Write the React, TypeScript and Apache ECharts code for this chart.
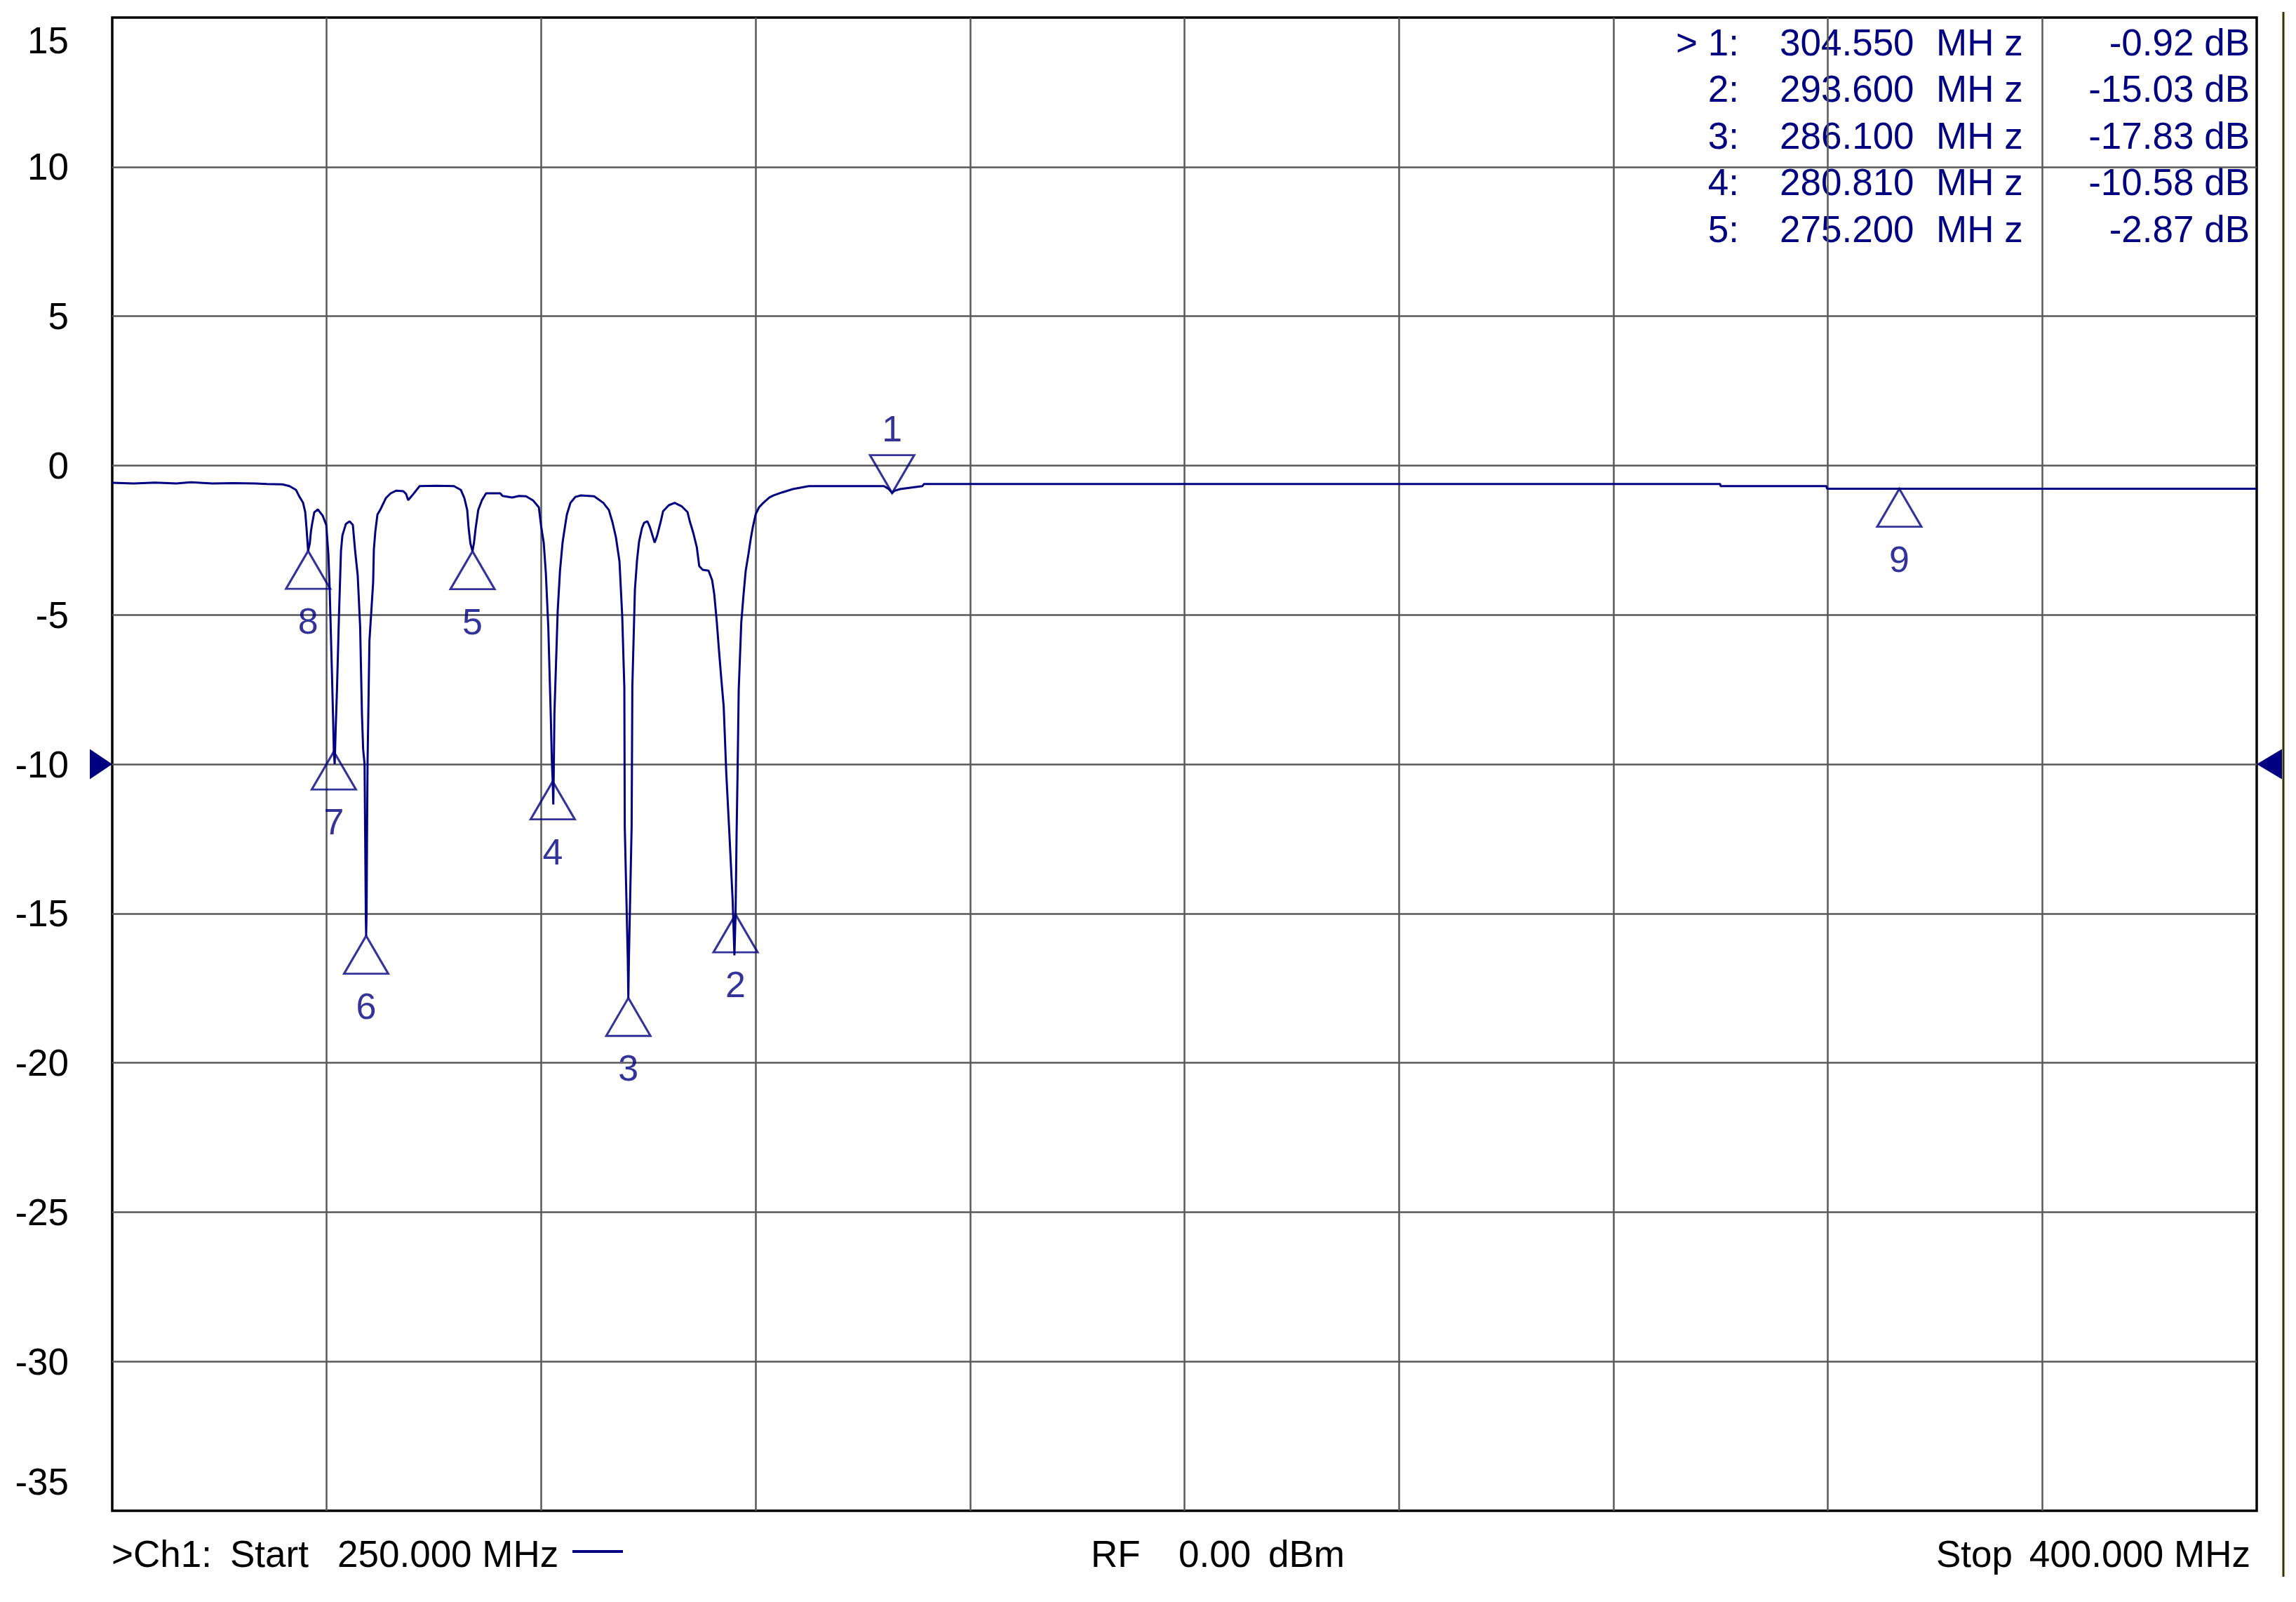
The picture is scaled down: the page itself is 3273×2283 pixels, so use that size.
import React, { useEffect, useRef } from 'react';
import * as echarts from 'echarts';

// ---------- sweep settings ----------
const START_MHZ = 250;
const STOP_MHZ = 400;
const DIVISION_MHZ = 15;
const Y_MIN_DB = -35;
const Y_MAX_DB = 15;
const Y_STEP_DB = 5;
const REF_LEVEL_DB = -10;
const RF_POWER_DBM = 0;

// ---------- trace ----------
const traceFreqMHz = [
  250.0, 251.5, 253.0, 254.5, 255.5, 257.0, 258.5, 260.0, 260.8, 261.9,
  262.4, 262.86, 263.1, 263.35, 263.5, 263.59, 263.7, 263.82, 263.9, 263.98,
  264.13, 264.38, 264.72, 264.97, 265.12, 265.21, 265.36, 265.45, 265.5, 265.56,
  265.63, 265.72, 265.86, 266.0, 266.1, 266.34, 266.6, 266.83, 266.98, 267.17,
  267.34, 267.47, 267.55, 267.65, 267.7, 267.74, 267.76, 267.79, 267.82, 267.86,
  267.91, 267.99, 268.25, 268.3, 268.4, 268.55, 268.74, 268.9, 269.14, 269.48,
  269.87, 270.36, 270.55, 270.7, 270.95, 271.5, 272.7, 273.9, 274.39, 274.63,
  274.83, 274.93, 275.05, 275.2, 275.3, 275.42, 275.6, 275.86, 276.15, 277.14,
  277.3, 277.97, 278.46, 278.95, 279.44, 279.84, 280.0, 280.18, 280.33, 280.5,
  280.67, 280.75, 280.81, 280.85, 280.88, 280.93, 281.16, 281.32, 281.5, 281.65,
  281.8, 282.05, 282.4, 282.78, 283.71, 284.35, 284.74, 284.99, 285.23, 285.48,
  285.67, 285.82, 285.85, 286.06, 286.1, 286.14, 286.33, 286.38, 286.56, 286.71,
  286.85, 287.05, 287.2, 287.44, 287.62, 287.94, 288.12, 288.37, 288.53, 288.93,
  289.34, 289.84, 290.24, 290.4, 290.65, 290.89, 291.06, 291.3, 291.71, 291.96,
  292.11, 292.29, 292.44, 292.6, 292.77, 292.95, 293.17, 293.4, 293.52, 293.6,
  293.67, 293.74, 293.82, 294.0, 294.16, 294.31, 294.5, 294.66, 294.8, 295.0,
  295.24, 295.54, 295.97, 296.27, 296.86, 297.6, 298.73, 301.5, 303.98, 304.3,
  304.55, 304.7, 305.1, 306.67, 306.77, 320.0, 340.0, 362.47, 362.5, 369.9,
  369.95, 385.0, 400.0,
];
const traceDb = [
  -0.58, -0.6, -0.57, -0.6, -0.56, -0.6, -0.59, -0.6, -0.62, -0.63,
  -0.69, -0.82, -1.05, -1.25, -1.56, -2.1, -2.86, -2.6, -2.2, -1.96,
  -1.57, -1.47, -1.68, -1.99, -2.98, -4.15, -6.81, -8.5, -9.58, -10.0,
  -8.8, -7.5, -5.02, -2.86, -2.34, -1.96, -1.87, -1.99, -2.81, -3.68,
  -5.4, -8.38, -9.5, -10.0, -12.8, -15.2, -15.75, -15.0, -12.5, -9.9,
  -8.38, -5.87, -3.91, -2.81, -2.22, -1.64, -1.49, -1.33, -1.09, -0.93,
  -0.84, -0.86, -0.95, -1.16, -1.02, -0.69, -0.68, -0.69, -0.82, -1.09,
  -1.49, -2.1, -2.6, -2.87, -2.6, -2.1, -1.49, -1.16, -0.93, -0.93,
  -1.02, -1.07, -1.02, -1.03, -1.17, -1.4, -2.03, -2.58, -3.6, -5.4,
  -8.3, -9.9, -10.58, -11.35, -10.4, -8.3, -4.85, -3.52, -2.58, -2.1,
  -1.64, -1.25, -1.05, -1.0, -1.03, -1.25, -1.49, -1.9, -2.4, -3.21,
  -5.02, -7.44, -12.1, -16.5, -17.83, -16.5, -12.1, -7.39, -4.15, -3.16,
  -2.55, -2.1, -1.92, -1.87, -2.08, -2.58, -2.34, -1.87, -1.53, -1.33,
  -1.25, -1.37, -1.56, -1.87, -2.27, -2.74, -3.37, -3.49, -3.52, -3.84,
  -4.31, -5.25, -6.19, -7.13, -8.07, -10.3, -12.35, -14.6, -16.4, -15.03,
  -12.4, -10.3, -7.51, -5.25, -4.31, -3.52, -2.97, -2.46, -2.08, -1.64,
  -1.4, -1.25, -1.07, -1.0, -0.9, -0.79, -0.69, -0.69, -0.69, -0.78,
  -0.92, -0.85, -0.79, -0.69, -0.62, -0.62, -0.62, -0.62, -0.69, -0.69,
  -0.78, -0.78, -0.78,
];

// ---------- markers ----------
const markerIds = ['1', '2', '3', '4', '5', '6', '7', '8', '9'];
const markerFreqMHz = [304.55, 293.6, 286.1, 280.81, 275.2, 267.76, 265.5, 263.7, 375.0];
const markerDb = [-0.92, -15.03, -17.83, -10.58, -2.87, -15.75, -9.58, -2.86, -0.78];
const tableRowCount = 5;
const activeMarkerId = '1';

// ---------- style ----------
const NAVY = '#000080';
const GRID_COLOR = '#585858';
const FONT = '"Liberation Sans", Arial, sans-serif';
const FS = 53;
const GRID = { left: 160, top: 25, width: 3057, height: 2128 };

const UP_TRI = 'path://M1,0L2,2L0,2Z';
const DOWN_TRI = 'path://M0,0L2,0L1,2Z';
const TRI_W = 63;
const TRI_H = 54;

function txt(text: string, x: number, y: number, align: string, fill: string) {
  return {
    type: 'text',
    x,
    y,
    silent: true,
    style: { text, fill, fontSize: FS, fontFamily: FONT, align, verticalAlign: 'middle' },
  };
}

function buildOption() {
  const traceData = traceFreqMHz.map((f, i) => [f, traceDb[i]]);

  const markerData = markerIds.map((id, i) => {
    const down = id === activeMarkerId;
    return {
      name: id,
      value: [markerFreqMHz[i], markerDb[i]],
      symbol: down ? DOWN_TRI : UP_TRI,
      symbolOffset: [0, down ? -TRI_H / 2 : TRI_H / 2],
      label: { offset: [0, down ? -65 : 73] },
    };
  });

  const graphics: any[] = [];
  const rowY0 = 60;
  const rowStep = 66.6;
  for (let i = 0; i < tableRowCount; i++) {
    const y = rowY0 + i * rowStep;
    const id = markerIds[i];
    graphics.push(txt((id === activeMarkerId ? '> ' : '') + id + ':', 2479, y, 'right', NAVY));
    graphics.push(txt(markerFreqMHz[i].toFixed(3), 2537, y, 'left', NAVY));
    graphics.push(txt('MH z', 2760, y, 'left', NAVY));
    graphics.push(txt(markerDb[i].toFixed(2) + ' dB', 3207, y, 'right', NAVY));
  }
  const footY = 2214;
  graphics.push(txt('>Ch1:', 159, footY, 'left', '#000'));
  graphics.push(txt('Start', 328, footY, 'left', '#000'));
  graphics.push(txt(START_MHZ.toFixed(3) + ' MHz', 481, footY, 'left', '#000'));
  graphics.push({
    type: 'line',
    silent: true,
    shape: { x1: 816, y1: 2211, x2: 888, y2: 2211 },
    style: { stroke: NAVY, lineWidth: 4 },
  });
  graphics.push(txt('RF', 1555, footY, 'left', '#000'));
  graphics.push(txt(RF_POWER_DBM.toFixed(2), 1680, footY, 'left', '#000'));
  graphics.push(txt('dBm', 1808, footY, 'left', '#000'));
  graphics.push(txt('Stop', 2760, footY, 'left', '#000'));
  graphics.push(txt(STOP_MHZ.toFixed(3) + ' MHz', 3208, footY, 'right', '#000'));
  graphics.push({
    type: 'line',
    silent: true,
    shape: { x1: 3255, y1: 17, x2: 3255, y2: 2247 },
    style: { stroke: '#363200', lineWidth: 3 },
  });

  return {
    animation: false,
    backgroundColor: '#ffffff',
    grid: { ...GRID, show: true, borderColor: '#000', borderWidth: 3.5, backgroundColor: 'transparent' },
    xAxis: [
      {
        type: 'value',
        min: START_MHZ,
        max: STOP_MHZ,
        show: false,
        position: 'top',
      },
      {
        type: 'value',
        min: 0,
        max: STOP_MHZ - START_MHZ,
        interval: DIVISION_MHZ,
        position: 'bottom',
        axisLine: { show: false },
        axisTick: { show: false },
        axisLabel: { show: false },
        splitLine: {
          show: true,
          showMinLine: false,
          showMaxLine: false,
          lineStyle: { color: GRID_COLOR, width: 2.5 },
        },
      },
    ],
    yAxis: {
      type: 'value',
      min: Y_MIN_DB,
      max: Y_MAX_DB,
      interval: Y_STEP_DB,
      axisLine: { show: false },
      axisTick: { show: false },
      splitLine: {
        show: true,
        showMinLine: false,
        showMaxLine: false,
        lineStyle: { color: GRID_COLOR, width: 2.5 },
      },
      axisLabel: {
        margin: 62,
        fontSize: FS,
        fontFamily: FONT,
        color: '#000',
        formatter: (v: number) =>
          v === Y_MAX_DB ? `{top|${v}}` : v === Y_MIN_DB ? `{bot|${v}}` : `${v}`,
        rich: {
          top: { padding: [64, 0, 0, 0], fontSize: FS, fontFamily: FONT, color: '#000' },
          bot: { padding: [0, 0, 84, 0], fontSize: FS, fontFamily: FONT, color: '#000' },
        },
      },
    },
    series: [
      {
        type: 'line',
        xAxisIndex: 0,
        yAxisIndex: 0,
        data: traceData,
        symbol: 'none',
        silent: true,
        z: 3,
        lineStyle: { color: NAVY, width: 3 },
        markPoint: {
          silent: true,
          label: { show: false },
          data: [
            {
              coord: [START_MHZ, REF_LEVEL_DB],
              symbol: 'path://M0,0L2,1L0,2Z',
              symbolSize: [32, 43],
              symbolOffset: [-16, 0],
              itemStyle: { color: NAVY },
            },
            {
              coord: [STOP_MHZ, REF_LEVEL_DB],
              symbol: 'path://M2,0L0,1L2,2Z',
              symbolSize: [36, 43],
              symbolOffset: [18, 0],
              itemStyle: { color: NAVY },
            },
          ],
        },
      },
      {
        type: 'scatter',
        xAxisIndex: 0,
        yAxisIndex: 0,
        data: markerData,
        symbolSize: [TRI_W, TRI_H],
        silent: true,
        z: 4,
        itemStyle: { color: 'rgba(0,0,0,0)', borderColor: NAVY, borderWidth: 3 },
        label: {
          show: true,
          position: 'inside',
          formatter: '{b}',
          color: NAVY,
          fontSize: 52,
          fontFamily: FONT,
        },
      },
    ],
    graphic: graphics,
  };
}

export default function App() {
  const ref = useRef<HTMLDivElement>(null);
  useEffect(() => {
    if (!ref.current) return;
    const chart = echarts.init(ref.current, undefined, { renderer: 'svg' });
    chart.setOption(buildOption() as any);
    return () => chart.dispose();
  }, []);
  return (
    <div
      ref={ref}
      style={{ position: 'fixed', left: 0, top: 0, width: 3273, height: 2283, background: '#fff' }}
    />
  );
}
